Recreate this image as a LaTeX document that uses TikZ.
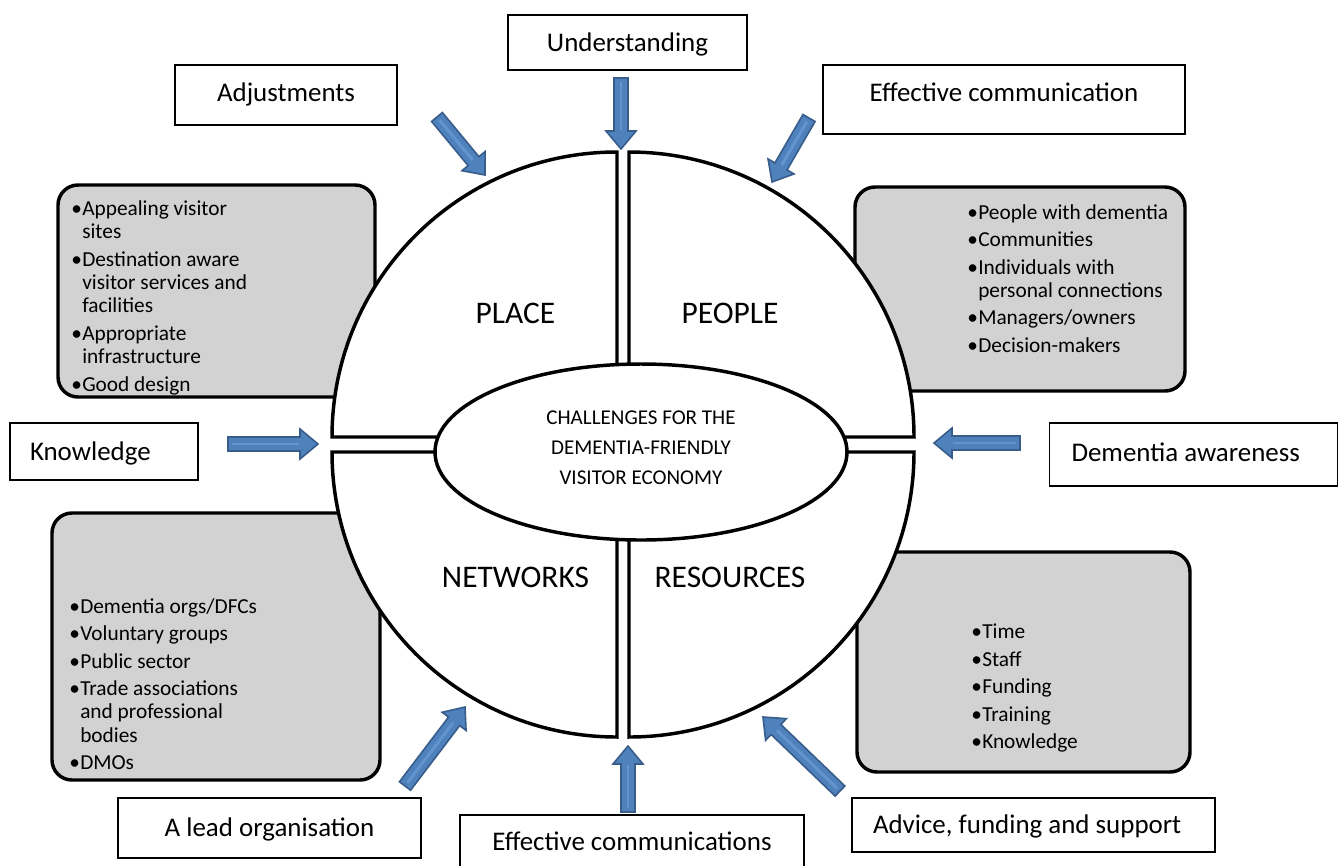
\documentclass[tikz,border=0pt]{standalone}
\usepackage{fontspec}
\setmainfont{Carlito}
\usetikzlibrary{shapes.geometric, calc, positioning}

\definecolor{arrowfill}{RGB}{79,129,189}
\definecolor{arrowline}{RGB}{56,93,138}
\definecolor{arrowlight}{RGB}{98,148,208}
\definecolor{boxgrey}{RGB}{210,210,210}

\tikzset{
  labelbox/.style={draw, line width=1pt, fill=white, inner sep=0pt,
    font=\fontsize{20.2pt}{24pt}\selectfont, text height=13pt, text depth=0pt},
  boxsize/.style 2 args={minimum width=#1*0.75pt, minimum height=#2*0.75pt},
  raisetext/.style={text depth=#1*1.5pt},
  insetleft/.style={align=flush left, text width=#1*0.75pt},
  greybox/.style={draw, line width=2.6pt, fill=boxgrey, rounded corners=15pt},
  listtext/.style={inner sep=0pt, align=left, font=\fontsize{16pt}{17.6pt}\selectfont},
  quadrant/.style={draw, line width=2.6pt, fill=white, line join=miter},
  quadtitle/.style={inner sep=0pt, font=\fontsize{23.6pt}{28pt}\selectfont},
  core/.style={ellipse, draw, line width=2.6pt, fill=white, align=center, inner sep=0pt,
    font=\fontsize{15.8pt}{22.5pt}\selectfont},
  arrowbody/.style={fill=arrowfill, draw=arrowline, line width=1.2pt, line join=miter}
}

% list bullets
\newcommand{\bulletmark}{\makebox[8.25pt][l]{\textbullet}}
\newcommand{\contindent}{\hspace*{8.25pt}}

% block arrow from tail coordinate to tip coordinate
\newcommand{\blockarrow}[2]{%
  \coordinate (neck) at ($(#2)!13.5pt!(#1)$);
  \filldraw[arrowbody] ($(#1)!5.25pt!90:(#2)$) -- ($(neck)!5.25pt!-90:(#1)$)
    -- ($(neck)!11.25pt!-90:(#1)$) -- (#2) -- ($(neck)!11.25pt!90:(#1)$)
    -- ($(neck)!5.25pt!90:(#1)$) -- ($(#1)!5.25pt!-90:(#2)$) -- cycle;
  \draw[arrowlight, line width=2.2pt] ($(#1)!3pt!(#2)$) -- ($(neck)!1pt!(#1)$);
}

\begin{document}
\begin{tikzpicture}[x=0.75pt, y=-0.75pt]
    \useasboundingbox (0,0) rectangle (1338,865);

    % Grey boxes
    \draw[greybox] (58,185) rectangle (375,397);
    \draw[greybox] (855,187) rectangle (1185,391);
    \draw[greybox] (52,513) rectangle (380,780);
    \draw[greybox] (857,552) rectangle (1190,772);

    % Four quarters of the circle
    \draw[quadrant] (617,437) -- (332,437) arc[start angle=180, end angle=270, radius=285] -- cycle;
    \draw[quadrant] (629,437) -- (629,152) arc[start angle=270, end angle=360, radius=285] -- cycle;
    \draw[quadrant] (617,452) -- (332,452) arc[start angle=180, end angle=90, radius=285] -- cycle;
    \draw[quadrant] (629,452) -- (914,452) arc[start angle=0, end angle=90, radius=285] -- cycle;

    % Quarter titles
    \node[quadtitle] (place) at (515.5,313) {PLACE};
    \node[quadtitle] (people) at (730,313) {PEOPLE};
    \node[quadtitle] (networks) at (515.5,577) {NETWORKS};
    \node[quadtitle] (resources) at (730,577) {RESOURCES};

    % Centre
    \node[core, boxsize={412}{176}, text depth=6pt] (challenges) at (641,452)
        {CHALLENGES FOR THE\\DEMENTIA-FRIENDLY\\VISITOR ECONOMY};

    % Lists
    \node[listtext, anchor=north west] (placelist) at (71,200) {%
        \bulletmark Appealing visitor\\ \contindent sites\\[3pt]
        \bulletmark Destination aware\\ \contindent visitor services and\\ \contindent facilities\\[3pt]
        \bulletmark Appropriate\\ \contindent infrastructure\\[3pt]
        \bulletmark Good design};
    \node[listtext, anchor=north west] (peoplelist) at (967,204) {%
        \bulletmark People with dementia\\[3pt]
        \bulletmark Communities\\[3pt]
        \bulletmark Individuals with\\ \contindent personal connections\\[3pt]
        \bulletmark Managers/owners\\[3pt]
        \bulletmark Decision-makers};
    \node[listtext, anchor=north west] (networklist) at (69,598) {%
        \bulletmark Dementia orgs/DFCs\\[3pt]
        \bulletmark Voluntary groups\\[3pt]
        \bulletmark Public sector\\[3pt]
        \bulletmark Trade associations\\ \contindent and professional\\ \contindent bodies\\[3pt]
        \bulletmark DMOs};
    \node[listtext, anchor=north west] (resourcelist) at (971,624) {%
        \bulletmark Time\\[3pt]
        \bulletmark Staff\\[3pt]
        \bulletmark Funding\\[3pt]
        \bulletmark Training\\[3pt]
        \bulletmark Knowledge};

    % Arrow ends
    \coordinate (und-tail) at (621,78);   \coordinate (und-tip) at (621,149);
    \coordinate (adj-tail) at (437,117);  \coordinate (adj-tip) at (485,175);
    \coordinate (eff-tail) at (809,118);  \coordinate (eff-tip) at (772,182);
    \coordinate (kno-tail) at (228,444);  \coordinate (kno-tip) at (318,444);
    \coordinate (dem-tail) at (1020,443); \coordinate (dem-tip) at (934,443);
    \coordinate (lead-tail) at (405,786); \coordinate (lead-tip) at (465,707);
    \coordinate (com-tail) at (628,812);  \coordinate (com-tip) at (628,746);
    \coordinate (adv-tail) at (840,791);  \coordinate (adv-tip) at (763,717);

    % Arrows
    \blockarrow{und-tail}{und-tip}
    \blockarrow{adj-tail}{adj-tip}
    \blockarrow{eff-tail}{eff-tip}
    \blockarrow{kno-tail}{kno-tip}
    \blockarrow{dem-tail}{dem-tip}
    \blockarrow{lead-tail}{lead-tip}
    \blockarrow{com-tail}{com-tip}
    \blockarrow{adv-tail}{adv-tip}

    % Label boxes
    \node[labelbox, boxsize={239}{55}] (understanding) at (627.5,42.5) {Understanding};
    \node[labelbox, boxsize={222}{60}, raisetext=2] (adjustments) at (286,95) {Adjustments};
    \node[labelbox, boxsize={362}{69}, raisetext=7] (effcomm) at (1004,99.5) {Effective communication};
    \node[labelbox, boxsize={188}{57}, insetleft=148] (knowledge) at (104,451.5) {Knowledge};
    \node[labelbox, boxsize={288}{63}, raisetext=2, insetleft=244] (awareness) at (1193.5,454.5) {Dementia awareness};
    \node[labelbox, boxsize={303}{60}] (leadorg) at (269.5,828) {A lead organisation};
    \node[labelbox, boxsize={344}{54}, raisetext=-2] (effcomms) at (632,842) {Effective communications};
    \node[labelbox, boxsize={363}{54}, raisetext=-1, insetleft=321] (advice) at (1033.5,825) {Advice, funding and support};
\end{tikzpicture}
\end{document}
